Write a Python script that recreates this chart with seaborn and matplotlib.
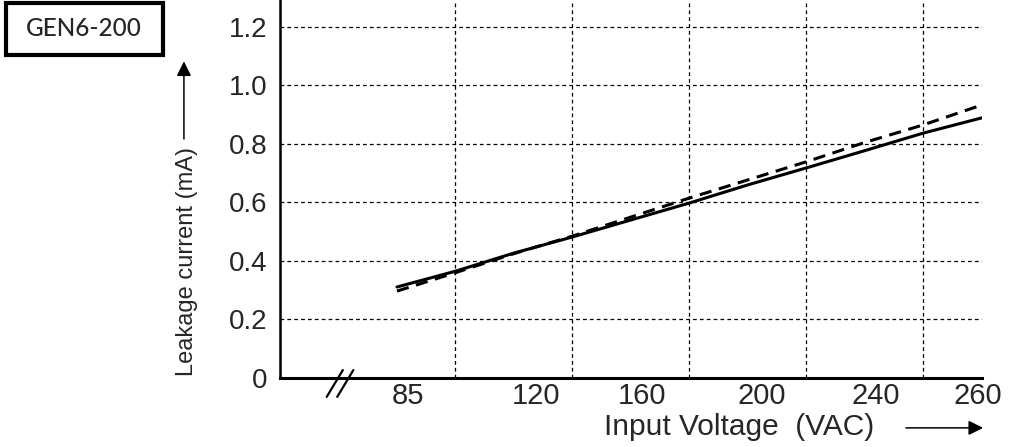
import numpy as np
import pandas as pd
import matplotlib
matplotlib.use("Agg")
import matplotlib.pyplot as plt
import matplotlib.transforms as mtransforms
from matplotlib.patches import Rectangle
import seaborn as sns

# Readings from the chart (input voltage in VAC, leakage current in mA)
voltage = [85, 102.5, 120, 140, 160, 180, 200, 220, 240, 250, 260]
current_solid = [0.311, 0.365, 0.427, 0.482, 0.540, 0.598, 0.660, 0.718, 0.777, 0.837, 0.889]
current_dashed = [0.297, 0.360, 0.425, 0.485, 0.550, 0.615, 0.677, 0.739, 0.805, 0.865, 0.933]

x_ticks = [85, 120, 160, 200, 240, 260]
y_ticks = [0, 0.2, 0.4, 0.6, 0.8, 1.0, 1.2]
y_ticklabels = ["0", "0.2", "0.4", "0.6", "0.8", "1.0", "1.2"]
model_name = "GEN6-200"

# the printed axis is not linear: labelled voltages sit on every second gridline
anchor_volts = [0, 85, 120, 160, 200, 240, 260]
anchor_pos = [-2, 0, 2, 4, 6, 8, 10]
# labels in the print are nudged off their gridlines (pixels)
label_nudge = [11, 22, 11, 14, 11, -4]


def forward(v):
    return np.interp(v, anchor_volts, anchor_pos)


def inverse(p):
    return np.interp(p, anchor_pos, anchor_volts)


df = pd.DataFrame({"voltage": voltage, "solid": current_solid, "dashed": current_dashed})

sns.set_style("white")
plt.rcParams["font.family"] = ["Liberation Sans", "DejaVu Sans"]

fig = plt.figure(figsize=(10.11, 4.47), dpi=100)
ax = fig.add_axes([0.277, 0.1544, 0.694, 0.8456])

ax.set_xscale("function", functions=(forward, inverse))
ax.set_xlim(0, 260)
ax.set_ylim(0, 1.292)

sns.lineplot(data=df, x="voltage", y="solid", ax=ax, color="black", lw=2.2)
sns.lineplot(data=df, x="voltage", y="dashed", ax=ax, color="black", lw=2.2,
             linestyle=(0, (4, 2.5)))

# gridlines on every step, labels only on some of them
grid_volts = [inverse(p) for p in range(0, 11)]
ax.set_xticks(grid_volts, minor=True)
ax.set_xticks(x_ticks)
ax.set_xticklabels([str(v) for v in x_ticks], fontsize=21)
ax.set_yticks(y_ticks)
ax.set_yticklabels(y_ticklabels, fontsize=20)
ax.tick_params(axis="both", which="both", length=0)
ax.tick_params(axis="x", pad=3)
ax.tick_params(axis="y", pad=9)

ax.grid(False)
ax.xaxis.grid(True, which="minor", color="black", lw=0.9, linestyle=(0, (3, 2.5)))
ax.yaxis.grid(True, which="major", color="black", lw=0.9, linestyle=(0, (3, 2.5)))

for lab, nudge in zip(ax.get_xticklabels(), label_nudge):
    offset = mtransforms.ScaledTranslation(nudge / 100, 0, fig.dpi_scale_trans)
    lab.set_transform(lab.get_transform() + offset)

for side in ["top", "right"]:
    ax.spines[side].set_visible(False)
ax.spines["left"].set_color("black")
ax.spines["left"].set_linewidth(1.8)
ax.spines["bottom"].set_color("black")
ax.spines["bottom"].set_linewidth(2.2)

# axis break mark
for cx in [0.078, 0.093]:
    ax.plot([cx - 0.0115, cx + 0.0115], [-0.05, 0.021], transform=ax.transAxes,
            color="black", lw=1.6, clip_on=False)

ax.set_xlabel("Input Voltage  (VAC)", fontsize=21.5)
ax.xaxis.set_label_coords(0.655, -0.093)
ax.set_ylabel("Leakage current (mA)", fontsize=17)
ax.yaxis.label.set_va("center")
ax.yaxis.set_label_coords(-0.132, 0.307)

ax.annotate("", xy=(-0.137, 0.845), xytext=(-0.137, 0.625), xycoords="axes fraction",
            arrowprops=dict(arrowstyle="-|>", color="black", lw=1.1, mutation_scale=22))
ax.annotate("", xy=(1.006, -0.132), xytext=(0.888, -0.132), xycoords="axes fraction",
            arrowprops=dict(arrowstyle="-|>", color="black", lw=1.1, mutation_scale=22))

# model label box
fig.patches.append(Rectangle((6 / 1011, 1 - 55 / 447), 157 / 1011, 52 / 447,
                             transform=fig.transFigure, fill=False, lw=3, ec="black"))
fig.text(84 / 1011, 1 - 29 / 447, model_name, fontsize=17.5, weight="medium",
         family=["Lato", "DejaVu Sans"], ha="center", va="center")

fig.savefig("out.png", dpi=100)
